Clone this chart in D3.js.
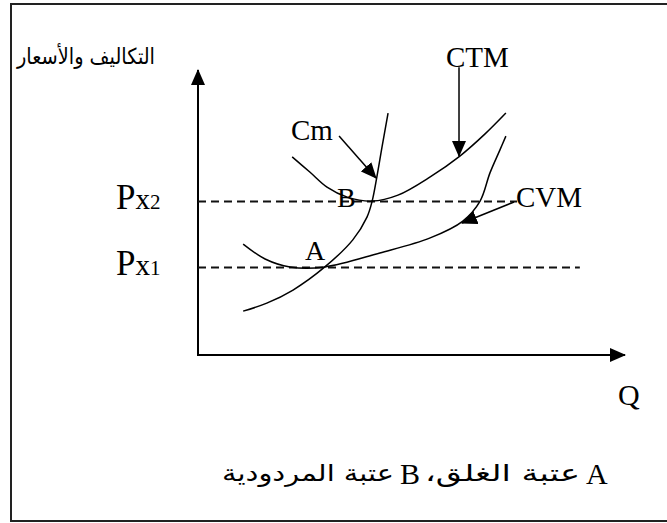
<!DOCTYPE html>
<html>
<head>
<meta charset="utf-8">
<script src="https://cdn.jsdelivr.net/npm/d3@7"></script>
<style>
    body { margin: 0; background: #fff; }
    svg { display: block; }
</style>
</head>
<body>
<svg id="chart"></svg>
<script>
// curves, quantity and cost both on a 0..100 scale
const cmQ = [10.5, 16.0, 22.1, 29.5, 36.0, 39.3, 40.5, 41.6, 42.8, 44.2]
const cmCost = [15.4, 18.2, 22.8, 30.9, 40.4, 48.4, 54.0, 62.5, 73.0, 84.9]
const ctmQ = [21.9, 26.0, 30.0, 34.7, 40.5, 46.5, 54.0, 60.9, 66.7, 71.6]
const ctmCost = [69.5, 64.2, 58.9, 55.4, 54.0, 56.1, 62.5, 69.8, 77.5, 84.9]
const cvmQ = [10.5, 15.6, 21.4, 29.5, 42.3, 54.0, 61.6, 65.6, 67.9, 70.2, 71.6]
const cvmCost = [38.9, 33.7, 30.9, 30.9, 35.8, 41.1, 47.0, 54.0, 63.9, 71.9, 76.8]

// price levels Px2 and Px1, and how far their dashed lines run
const priceLevels = [54.0, 30.9]
const priceIndex = ['2', '1']
const priceLineEnd = [74.2, 88.8]

// pointer arrows from the curve names to the curves
const pointerFrom = [[60.7, 101.0], [32.8, 76.8], [73.5, 53.7]]
const pointerTo = [[60.7, 69.8], [41.4, 62.1], [61.4, 46.3]]

const yTitle = 'التكاليف والأسعار'
const xTitle = 'Q'
// RLM keeps the comma on the left end of the rtl run
const noteA = 'عتبة الغلق،\u200F'
const noteB = 'عتبة المردودية'

let width = 667,
    height = 523

let $svg = d3.select('#chart')
    .attr('width', width)
    .attr('height', height)

let x = d3.scaleLinear().domain([0, 100]).range([198, 628])
let y = d3.scaleLinear().domain([0, 100]).range([355, 70])

let defs = $svg.append('defs')
defs.append('marker')
    .attr('id', 'head')
    .attr('markerUnits', 'userSpaceOnUse')
    .attr('markerWidth', 16)
    .attr('markerHeight', 14)
    .attr('viewBox', '0 0 16 14')
    .attr('refX', 15)
    .attr('refY', 7)
    .attr('orient', 'auto')
    .append('path')
    .attr('d', 'M0,0 L16,7 L0,14 Z')
    .attr('fill', '#000')

// frame (right side runs off the picture)
$svg.append('rect')
    .attr('x', 11)
    .attr('y', 4)
    .attr('width', 700)
    .attr('height', 517)
    .attr('fill', 'none')
    .attr('stroke', '#222')
    .attr('stroke-width', 2)

// axes
$svg.append('line')
    .attr('x1', x(0)).attr('y1', y(0))
    .attr('x2', x(0)).attr('y2', y(100))
    .attr('stroke', '#000')
    .attr('stroke-width', 2)
    .attr('marker-end', 'url(#head)')
$svg.append('line')
    .attr('x1', x(0) - 1).attr('y1', y(0))
    .attr('x2', x(99.3)).attr('y2', y(0))
    .attr('stroke', '#000')
    .attr('stroke-width', 2)
    .attr('marker-end', 'url(#head)')

// dashed price lines
$svg.selectAll('line.price')
    .data(priceLevels)
    .enter().append('line')
    .attr('class', 'price')
    .attr('x1', x(0))
    .attr('x2', (d, i) => x(priceLineEnd[i]))
    .attr('y1', d => Math.round(y(d)) + 0.5)
    .attr('y2', d => Math.round(y(d)) + 0.5)
    .attr('stroke', '#111')
    .attr('stroke-width', 2)
    .attr('stroke-dasharray', '8,5')

let priceText = $svg.selectAll('text.price')
    .data(priceLevels)
    .enter().append('text')
    .attr('class', 'price')
    .attr('x', 116)
    .attr('y', d => y(d) + 8)
    .attr('font-family', 'Liberation Serif, serif')
priceText.append('tspan').attr('font-size', 35).text('P')
priceText.append('tspan').attr('font-size', 29).text('x')
priceText.append('tspan').attr('font-size', 21).text((d, i) => priceIndex[i])

// cost curves
let line = d3.line()
    .x(d => x(d[0]))
    .y(d => y(d[1]))
    .curve(d3.curveCatmullRom.alpha(0.5))

let curves = [
    d3.zip(cmQ, cmCost),
    d3.zip(ctmQ, ctmCost),
    d3.zip(cvmQ, cvmCost)
]
$svg.selectAll('path.curve')
    .data(curves)
    .enter().append('path')
    .attr('class', 'curve')
    .attr('d', line)
    .attr('fill', 'none')
    .attr('stroke', '#000')
    .attr('stroke-width', 1.5)

// pointers
$svg.selectAll('line.pointer')
    .data(pointerFrom)
    .enter().append('line')
    .attr('class', 'pointer')
    .attr('x1', d => x(d[0]))
    .attr('y1', d => y(d[1]))
    .attr('x2', (d, i) => x(pointerTo[i][0]))
    .attr('y2', (d, i) => y(pointerTo[i][1]))
    .attr('stroke', '#000')
    .attr('stroke-width', 1.5)
    .attr('marker-end', 'url(#head)')

// latin labels
function label(txt, px, py, size) {
    return $svg.append('text')
        .attr('x', px)
        .attr('y', py)
        .attr('font-family', 'Liberation Serif, serif')
        .attr('font-size', size)
        .attr('fill', '#000')
        .text(txt)
}
label('CTM', 446, 67, 29)
label('Cm', 291, 140, 29)
label('CVM', 516, 207, 29)
label('A', 305, 260, 28)
label('B', 337, 207, 28)
label(xTitle, 618, 405, 30)

// arabic texts
function arabic(txt, right, py, size, len) {
    return $svg.append('text')
        .attr('x', right)
        .attr('y', py)
        .attr('text-anchor', 'end')
        .attr('font-family', 'DejaVu Sans, sans-serif')
        .attr('font-size', size)
        .attr('textLength', len)
        .attr('lengthAdjust', 'spacingAndGlyphs')
        .attr('fill', '#000')
        .text(txt)
}
arabic(yTitle, 155, 64, 22, 138)

label('A', 586, 484, 30)
arabic(noteA, 580, 481, 23, 155)
label('B', 400, 484, 30)
arabic(noteB, 394, 481, 23, 172)
</script>
</body>
</html>
